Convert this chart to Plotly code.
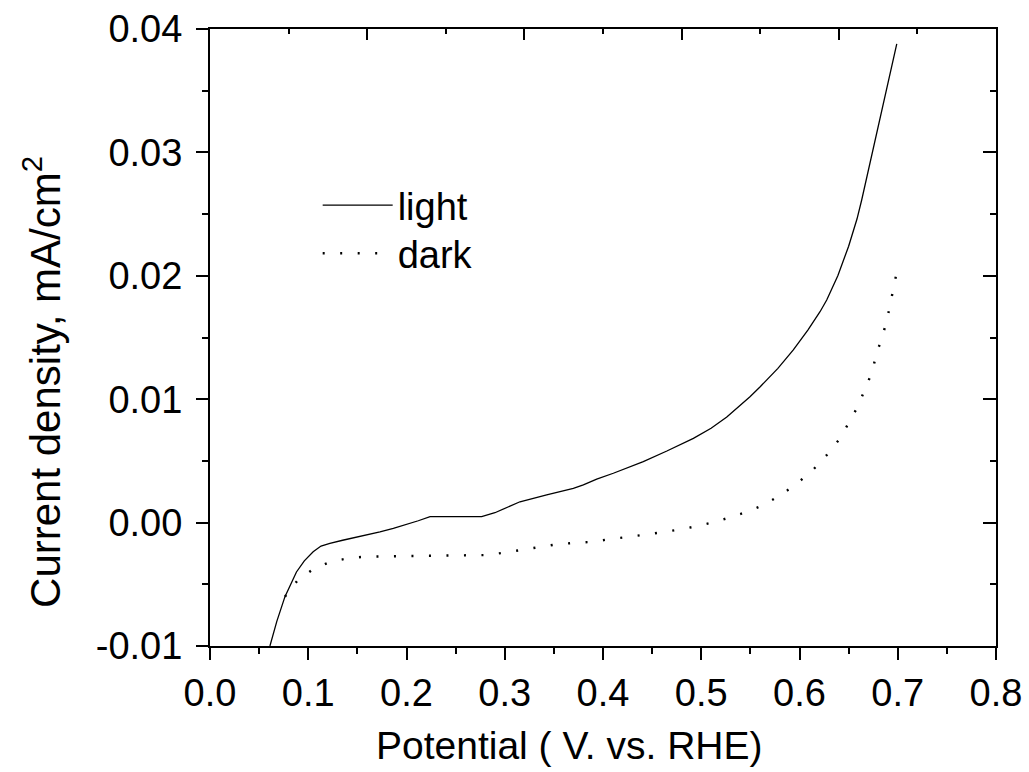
import plotly.graph_objects as go

# ---- data ----
light_x = [0.061, 0.068, 0.0763, 0.082, 0.088, 0.096, 0.105, 0.113, 0.122, 0.135, 0.149, 0.160,
           0.173, 0.1866, 0.200, 0.212, 0.224, 0.2765, 0.290, 0.3155, 0.3427, 0.3698, 0.380,
           0.3936, 0.4105, 0.441, 0.465, 0.492, 0.510, 0.526, 0.5496, 0.560, 0.578, 0.5937,
           0.6085, 0.6209, 0.6277, 0.639, 0.650, 0.6585, 0.6633, 0.668, 0.673, 0.680, 0.687,
           0.693, 0.699]
light_y = [-0.0100, -0.0080, -0.0060, -0.0050, -0.0040, -0.0031, -0.00236, -0.0019, -0.00168,
           -0.00143, -0.00119, -0.00100, -0.00075, -0.00046, -0.00016, 0.00015, 0.00048, 0.00048,
           0.0008, 0.00169, 0.00224, 0.00278, 0.00305, 0.00353, 0.0040, 0.00494, 0.0058, 0.00683,
           0.00765, 0.00855, 0.0102, 0.01101, 0.0125, 0.01399, 0.0156, 0.01709, 0.01804, 0.0200,
           0.0224, 0.0246, 0.02614, 0.0278, 0.0296, 0.0321, 0.0346, 0.0367, 0.0388]

dark_x = [0.0763, 0.0889, 0.1052, 0.1228, 0.1408, 0.158, 0.200, 0.250, 0.2816, 0.2995, 0.3172,
          0.3349, 0.3528, 0.370, 0.3878, 0.4058, 0.4234, 0.441, 0.459, 0.4767, 0.4947, 0.512,
          0.5296, 0.546, 0.563, 0.581, 0.598, 0.614, 0.628, 0.641, 0.651, 0.660, 0.667, 0.674,
          0.678, 0.684, 0.689, 0.6955, 0.699]
dark_y = [-0.0060, -0.00471, -0.00376, -0.00317, -0.00289, -0.00276, -0.00271, -0.00269, -0.00263,
          -0.00244, -0.00222, -0.00195, -0.00176, -0.00165, -0.00157, -0.00136, -0.00120, -0.0010,
          -0.00079, -0.00058, -0.00030, 0.00002, 0.00043, 0.00086, 0.0014, 0.00224, 0.0032, 0.0043,
          0.0055, 0.0068, 0.0082, 0.0095, 0.0109, 0.0122, 0.0136, 0.0150, 0.0164, 0.0190, 0.0203]

x_tickvals = [0.0, 0.1, 0.2, 0.3, 0.4, 0.5, 0.6, 0.7, 0.8]
x_ticktext = ["0.0", "0.1", "0.2", "0.3", "0.4", "0.5", "0.6", "0.7", "0.8"]
y_tickvals = [-0.01, 0.0, 0.01, 0.02, 0.03, 0.04]
y_ticktext = ["-0.01", "0.00", "0.01", "0.02", "0.03", "0.04"]

FONT = "Liberation Sans, Arial, sans-serif"

fig = go.Figure()
fig.add_trace(go.Scatter(x=light_x, y=light_y, mode="lines", name="light", legend="legend",
                         line=dict(color="black", width=1.3)))
fig.add_trace(go.Scatter(x=dark_x, y=dark_y, mode="lines", name="dark", legend="legend2",
                         line=dict(color="black", width=2.4, dash="2px,15.5px")))
# mirror axes (top / right) carrying only inside ticks
fig.add_trace(go.Scatter(x=[], y=[], xaxis="x2", yaxis="y2", showlegend=False, hoverinfo="skip"))

axis_common = dict(showgrid=False, zeroline=False, showline=True, linecolor="black",
                   linewidth=2, tickcolor="black", tickwidth=2, automargin=False)

legend_common = dict(xanchor="left", yanchor="top", bgcolor="rgba(0,0,0,0)",
                     font=dict(size=38), itemwidth=70)

fig.update_layout(
    width=1029, height=772,
    margin=dict(l=210, r=33, t=29, b=126),
    paper_bgcolor="white", plot_bgcolor="white",
    font=dict(family=FONT, size=38, color="black"),
    showlegend=True,
    legend=dict(x=0.137, y=0.765, **legend_common),
    legend2=dict(x=0.137, y=0.687, **legend_common),
    xaxis=dict(range=[0, 0.8], tickvals=x_tickvals, ticktext=x_ticktext, ticks="outside",
               ticklen=12, minor=dict(dtick=0.05, tick0=0, ticks="outside", ticklen=6,
                                      tickcolor="black", tickwidth=2),
               tickfont=dict(size=38), **axis_common),
    yaxis=dict(range=[-0.01, 0.04], tickvals=y_tickvals, ticktext=y_ticktext, ticks="outside",
               ticklen=12, ticklabelstandoff=6,
               minor=dict(dtick=0.005, tick0=0, ticks="outside", ticklen=6,
                          tickcolor="black", tickwidth=2),
               tickfont=dict(size=38), **axis_common),
    xaxis2=dict(overlaying="x", side="top", range=[0, 0.8], tick0=0, dtick=0.16, ticks="inside",
                ticklen=11, showticklabels=False,
                minor=dict(dtick=0.08, tick0=0, ticks="inside", ticklen=5,
                           tickcolor="black", tickwidth=2),
                **axis_common),
    yaxis2=dict(overlaying="y", side="right", range=[-0.01, 0.04], tick0=0, dtick=0.01,
                ticks="inside", ticklen=13, showticklabels=False,
                minor=dict(dtick=0.005, tick0=0, ticks="inside", ticklen=6,
                           tickcolor="black", tickwidth=2),
                **axis_common),
    annotations=[
        dict(text="Potential ( V. vs. RHE)", xref="paper", yref="paper",
             x=0.458, y=-0.123, xanchor="center", yanchor="top", showarrow=False,
             font=dict(size=39)),
        dict(text="Current density, mA/cm<sup>2</sup>", xref="paper", yref="paper",
             x=-0.2137, y=0.428, xanchor="center", yanchor="middle", textangle=-90,
             showarrow=False, font=dict(size=42)),
    ],
)

fig.write_html("out.html")
